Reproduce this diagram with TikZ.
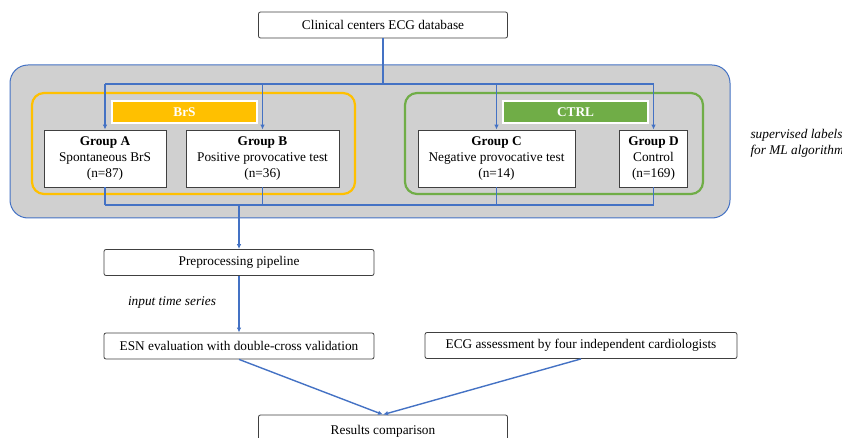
\documentclass[tikz,border=0pt]{standalone}
\usepackage{fontspec}
\setmainfont{Liberation Serif}
\usetikzlibrary{arrows.meta}
\definecolor{linkblue}{HTML}{4472C4}
\definecolor{brsorange}{HTML}{FFC000}
\definecolor{ctrlgreen}{HTML}{70AD47}
\definecolor{panelgrey}{HTML}{D0D0D0}
\definecolor{boxline}{HTML}{404040}
\begin{document}
\begin{tikzpicture}[x=1pt,y=-1pt,
  font=\fontsize{13.3pt}{16pt}\selectfont,
  stepbox/.style={draw=boxline,line width=0.8pt,fill=white,rounded corners=2pt,inner sep=0pt,minimum height=26pt},
  groupbox/.style={draw=boxline,line width=0.8pt,fill=white,inner sep=0pt,minimum height=57pt,align=center},
  tagbox/.style={draw=white,line width=1.5pt,inner sep=0pt,minimum width=145pt,minimum height=22pt,text=white,font=\fontsize{13.3pt}{16pt}\selectfont\bfseries},
  link/.style={draw=linkblue,line width=1.4pt},
  linkarrow/.style={link,-{Latex[length=5pt,width=4.5pt]}}]
  \useasboundingbox (0,0) rectangle (842,438);
  \node[stepbox,minimum width=249pt] (db) at (383,25) {Clinical centers ECG database};
  \draw[linkblue,line width=1pt,fill=panelgrey,rounded corners=18pt] (10,65) rectangle (730,218);
  \draw[brsorange,line width=2.2pt,rounded corners=12pt] (32,93) rectangle (355,194);
  \draw[ctrlgreen,line width=2.2pt,rounded corners=12pt] (405,93) rectangle (703,194);
  \node[tagbox,fill=brsorange] (brs) at (184.5,112) {BrS};
  \node[tagbox,fill=ctrlgreen] (ctrl) at (575.5,112) {CTRL};
  \node[groupbox,minimum width=122pt] (A) at (105,158.5) {\textbf{Group A}\\Spontaneous BrS\\(n=87)};
  \node[groupbox,minimum width=153pt] (B) at (262.5,158.5) {\textbf{Group B}\\Positive provocative test\\(n=36)};
  \node[groupbox,minimum width=157pt] (C) at (496.5,158.5) {\textbf{Group C}\\Negative provocative test\\(n=14)};
  \node[groupbox,minimum width=68pt] (D) at (653.5,158.5) {\textbf{Group D}\\Control\\(n=169)};
  \node[anchor=west,align=left,font=\fontsize{13.3pt}{16pt}\selectfont\itshape] (labels) at (747,143) {supervised labels\\for ML algorithm};
  \node[stepbox,minimum width=270pt] (prep) at (239,262.5) {Preprocessing pipeline};
  \node[font=\fontsize{13.3pt}{16pt}\selectfont\itshape] (series) at (172,303) {input time series};
  \node[stepbox,minimum width=270pt] (esn) at (239,346) {ESN evaluation with double-cross validation};
  \node[stepbox,minimum width=312pt] (ecg) at (581,345.5) {ECG assessment by four independent cardiologists};
  \node[stepbox,minimum width=249pt,minimum height=32pt] (res) at (383,431) {Results comparison};
  \coordinate (split) at (383,84);
  \coordinate (merge) at (239,205);
  \draw[link] (db) -- (split);
  \draw[link] (A.north |- split) -- (D.north |- split);
  \foreach \g in {A,B,C,D} {
    \draw[linkarrow] (\g.north |- split) -- (\g.north);
    \draw[link] (\g.south) -- (\g.south |- merge);
  }
  \draw[link] (A.south |- merge) -- (D.south |- merge);
  \draw[linkarrow] (merge) -- (prep.north);
  \draw[linkarrow] (prep) -- (esn);
  \draw[linkarrow] (esn.south) -- (res.north);
  \draw[linkarrow] (ecg.south) -- (res.north);
\end{tikzpicture}
\end{document}
